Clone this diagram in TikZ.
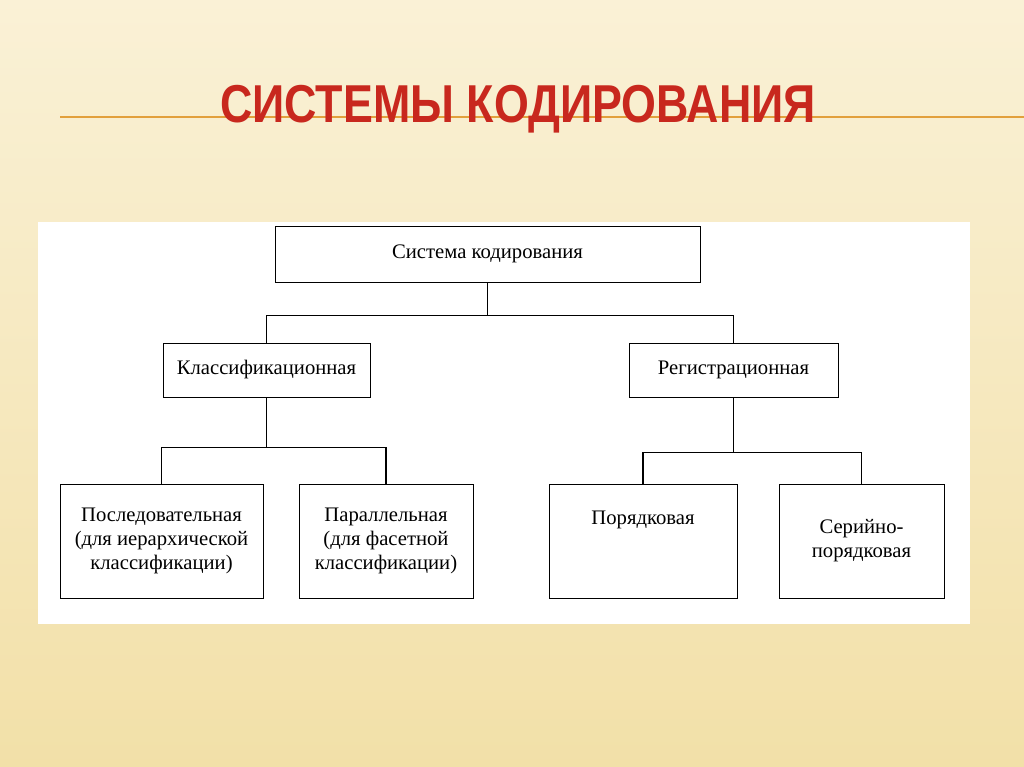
\documentclass[tikz,border=0pt]{standalone}
\usepackage{fontspec}
\setmainfont{Liberation Serif}
\newfontfamily\titlefont{Liberation Sans}
\usetikzlibrary{positioning}
\definecolor{bgtop}{RGB}{250,241,214}
\definecolor{bgbot}{RGB}{242,224,168}
\definecolor{titlered}{RGB}{200,40,30}
\definecolor{ruleorange}{RGB}{226,160,60}
\tikzset{every picture/.style={line width=0.75pt}}
\tikzset{
  box/.style={draw=black,fill=white,align=center,inner sep=1.5pt,font=\fontsize{15.5}{18}\selectfont},
  link/.style={draw=black,line width=0.9pt}
}
\begin{document}
\begin{tikzpicture}[x=0.75pt,y=0.75pt,yscale=-1,xscale=1]
% background
\shade[top color=bgtop,bottom color=bgbot] (0,0) rectangle (1024,767);
\useasboundingbox (0,0) rectangle (1024,767);
% title and rule
\draw[ruleorange,line width=1pt] (60,117) -- (1024,117);
\node[text=titlered,font=\titlefont\bfseries\fontsize{40}{46}\selectfont,xscale=0.84] (title) at (518,109) {СИСТЕМЫ КОДИРОВАНИЯ};
% white panel
\fill[white] (38,222) rectangle (970,624);
% boxes
\node[box,minimum width=318.75pt,minimum height=42pt] (sys) at (487.5,254) {Система кодирования};
\node[box,minimum width=155.25pt,minimum height=40.5pt] (klass) at (266.5,370) {Классификационная};
\node[box,minimum width=156.75pt,minimum height=40.5pt] (reg) at (733.5,370) {Регистрационная};
\node[box,minimum width=152.25pt,minimum height=85.5pt] (posl) at (161.5,541) {Последовательная\\(для иерархической\\классификации)};
\node[box,minimum width=130.5pt,minimum height=85.5pt] (par) at (386,541) {Параллельная\\(для фасетной\\классификации)};
\node[box,minimum width=141pt,minimum height=85.5pt] (por) at (643,541) {Порядковая\\[17pt]};
\node[box,minimum width=123.75pt,minimum height=85.5pt] (ser) at (861.5,541) {Серийно-\\порядковая};
% connectors
\draw[link] (sys.south) -- ++(0,33) coordinate (j1);
\draw[link] (klass.north) |- (j1) -| (reg.north);
\draw[link] (klass.south) -- ++(0,50) coordinate (j2);
\draw[link] (posl.north) |- (j2) -| (par.north);
\draw[link] (reg.south) -- ++(0,55) coordinate (j3);
\draw[link] (por.north) |- (j3) -| (ser.north);
\end{tikzpicture}
\end{document}
